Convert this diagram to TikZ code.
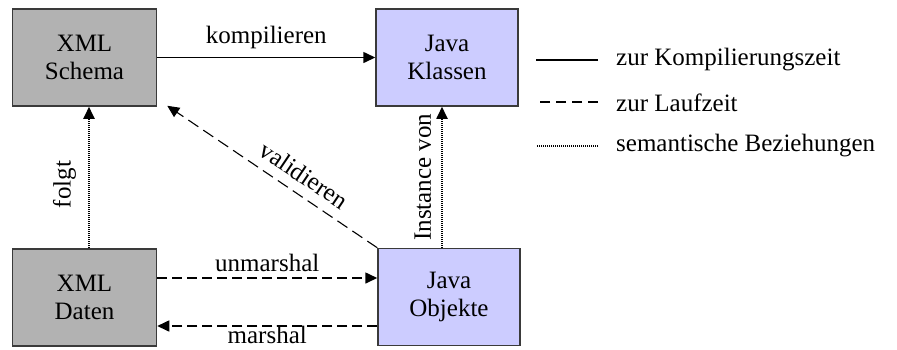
\documentclass[tikz,border=0pt]{standalone}
\usepackage{fontspec}
\setmainfont{Liberation Serif}
\usetikzlibrary{arrows.meta}
\definecolor{schemagray}{HTML}{B2B2B2}
\definecolor{javablue}{HTML}{CCCCFF}
\definecolor{boxedge}{HTML}{3A3A3A}
\tikzset{
  box/.style={draw=boxedge, line width=1.5pt, minimum height=97pt, align=center,
              inner sep=0pt, font=\fontsize{25}{28}\selectfont},
  xmlbox/.style={box, fill=schemagray, minimum width=144pt},
  javabox/.style={box, fill=javablue, minimum width=142pt},
  conn/.style={line width=1.6pt, -{Triangle[length=12pt,width=11pt]}},
  compile/.style={conn},
  runtime/.style={conn, dash pattern=on 10pt off 5pt},
  semantic/.style={conn, line width=1.8pt, dash pattern=on 1pt off 1pt},
  lbl/.style={font=\fontsize{25}{28}\selectfont, inner sep=2pt}
}
\begin{document}
\begin{tikzpicture}[x=1pt, y=-1pt]
\useasboundingbox (0,0) rectangle (897,349);

% the four boxes
\node[xmlbox]  (schema)   at (84.5,57.5)  {XML\\Schema};
\node[javabox] (klassen)  at (447,57.5)   {Java\\Klassen};
\node[xmlbox]  (daten)    at (84.5,297.5) {XML\\Daten};
\node[javabox] (objekte)  at (449,297)    {Java\\Objekte};

% compile time
\draw[compile] (schema.east) -- (klassen.west)
  node[lbl, midway, above=6pt] {kompilieren};

% run time
\draw[runtime] ([yshift=19.5pt]daten.east) -- ([yshift=19.5pt]daten.east -| objekte.west)
  node[lbl, midway, above=3pt] {unmarshal};
\draw[runtime] ([yshift=-28.5pt]daten.east -| objekte.west) -- ([yshift=-28.5pt]daten.east)
  node[lbl, inner sep=0pt, midway, below=-0.5pt, text depth=0pt] {marshal};
\draw[runtime, line width=1.1pt, dash pattern=on 12pt off 6pt]
  (objekte.north west) -- ([xshift=10pt,yshift=1pt]schema.south east)
  node[lbl, pos=0.4, sloped, above=8pt] {validieren};

% semantic relations
\draw[semantic] ([xshift=4.5pt]daten.north) -- ([xshift=4.5pt]schema.south)
  node[lbl, pos=0.45, sloped, above=10pt] {folgt};
\draw[semantic] ([xshift=-7pt]objekte.north) -- ([xshift=-7pt]objekte.north |- klassen.south)
  node[lbl, midway, sloped, above=8pt] {Instance von};

% legend
\node[lbl, anchor=west] (leg1) at (614,60)  {zur Kompilierungszeit};
\node[lbl, anchor=west] (leg2) at (614,103) {zur Laufzeit};
\node[lbl, anchor=west] (leg3) at (614,146) {semantische Beziehungen};
\draw[line width=1.3pt] ([xshift=-16pt]leg1.west) -- ++(-62,0);
\draw[line width=1.3pt, dash pattern=on 10pt off 6pt] ([xshift=-16pt,yshift=1pt]leg2.west) -- ++(-62,0);
\draw[line width=1.6pt, dash pattern=on 1pt off 1pt] ([xshift=-16pt]leg3.west) -- ++(-62,0);
\end{tikzpicture}
\end{document}
